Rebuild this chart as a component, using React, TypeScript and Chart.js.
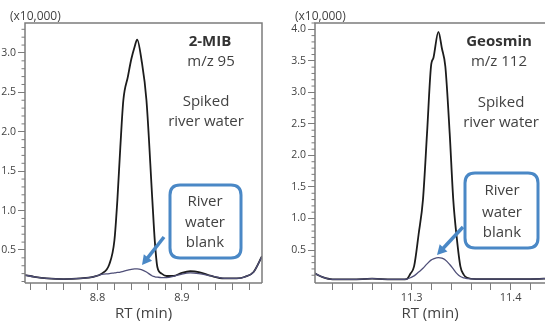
import React, { useEffect, useRef } from "react";
import { Chart, registerables } from "chart.js";

Chart.register(...registerables);
Chart.defaults.font.family = "'Open Sans', 'Noto Sans', sans-serif";

// ---------- 2-MIB (m/z 95) ----------
const MIB_RT = [8.714, 8.725, 8.74, 8.76, 8.78, 8.795, 8.805, 8.814, 8.82, 8.8235, 8.827, 8.8306, 8.836, 8.84, 8.844, 8.847, 8.852, 8.858, 8.865, 8.868, 8.871, 8.876, 8.882, 8.89, 8.9, 8.91, 8.92, 8.935, 8.95, 8.965, 8.975, 8.985, 8.995];
const MIB_SPIKED = [0.18, 0.16, 0.14, 0.13, 0.14, 0.16, 0.2, 0.32, 0.62, 1.13, 1.8, 2.4, 2.7, 2.92, 3.08, 3.17, 2.92, 2.4, 1.13, 0.6, 0.28, 0.2, 0.17, 0.17, 0.21, 0.23, 0.22, 0.17, 0.14, 0.14, 0.16, 0.22, 0.42];
const MIB_BLANK = [0.18, 0.16, 0.14, 0.13, 0.14, 0.16, 0.19, 0.2, 0.21, 0.215, 0.22, 0.23, 0.245, 0.255, 0.26, 0.26, 0.25, 0.22, 0.17, 0.16, 0.155, 0.15, 0.15, 0.165, 0.195, 0.21, 0.2, 0.17, 0.14, 0.14, 0.16, 0.22, 0.42];
const MIB_X_TICKS = [8.72, 8.74, 8.76, 8.78, 8.8, 8.82, 8.84, 8.86, 8.88, 8.9, 8.92, 8.94, 8.96, 8.98];
const MIB_X_LABELS = [8.8, 8.9];
const MIB_Y_LABELS = [0.5, 1.0, 1.5, 2.0, 2.5, 3.0];
const MIB_Y_MINOR = [0.1, 0.2, 0.3, 0.4, 0.6, 0.7, 0.8, 0.9, 1.1, 1.2, 1.3, 1.4, 1.6, 1.7, 1.8, 1.9, 2.1, 2.2, 2.3, 2.4, 2.6, 2.7, 2.8, 2.9, 3.1, 3.2, 3.3];

// ---------- Geosmin (m/z 112) ----------
const GEO_RT = [11.202, 11.21, 11.22, 11.24, 11.26, 11.28, 11.29, 11.295, 11.2985, 11.3024, 11.307, 11.3114, 11.3155, 11.3195, 11.322, 11.327, 11.3305, 11.334, 11.3384, 11.342, 11.3455, 11.3492, 11.3525, 11.356, 11.365, 11.38, 11.4, 11.42, 11.44];
const GEO_SPIKED = [0.13, 0.07, 0.035, 0.035, 0.045, 0.035, 0.035, 0.04, 0.12, 0.24, 0.75, 1.3, 2.35, 3.41, 3.55, 3.96, 3.7, 3.41, 2.35, 1.3, 0.7, 0.24, 0.11, 0.06, 0.04, 0.04, 0.04, 0.04, 0.05];
const GEO_BLANK = [0.13, 0.07, 0.035, 0.035, 0.045, 0.035, 0.035, 0.04, 0.06, 0.09, 0.15, 0.21, 0.28, 0.34, 0.36, 0.38, 0.37, 0.34, 0.27, 0.2, 0.13, 0.08, 0.06, 0.045, 0.04, 0.04, 0.04, 0.04, 0.05];
const GEO_X_TICKS = [11.22, 11.24, 11.26, 11.28, 11.3, 11.32, 11.34, 11.36, 11.38, 11.4, 11.42];
const GEO_X_LABELS = [11.3, 11.4];
const GEO_Y_LABELS = [0.5, 1.0, 1.5, 2.0, 2.5, 3.0, 3.5, 4.0];
const GEO_Y_MINOR = [0.1, 0.2, 0.3, 0.4, 0.6, 0.7, 0.8, 0.9, 1.1, 1.2, 1.3, 1.4, 1.6, 1.7, 1.8, 1.9, 2.1, 2.2, 2.3, 2.4, 2.6, 2.7, 2.8, 2.9, 3.1, 3.2, 3.3, 3.4, 3.6, 3.7, 3.8, 3.9, 4.1];

const X_TITLE = "RT (min)";
const Y_UNIT = "(x10,000)";
const SAMPLE_LINES = ["Spiked", "river water"];
const BLANK_LINES = ["River", "water", "blank"];

const SPIKED_COLOR = "#1c1c1c";
const BLANK_COLOR = "#4f4f78";
const AXIS_COLOR = "#7c7c7c";
const TEXT_COLOR = "#424242";
const BOX_COLOR = "#4a88c6";

type Panel = {
  rt: number[]; spiked: number[]; blank: number[];
  xMin: number; xMax: number; yMin: number; yMax: number;
  xTicks: number[]; xLabels: number[]; yLabels: number[]; yMinor: number[];
  name: string; mz: string;
  canvasLeft: number; canvasWidth: number; yAxisWidth: number; padRight: number; showRight: boolean;
  unitX: number;
  nameAt: [number, number]; mzAt: [number, number]; sampleAt: [number, number][];
  box: [number, number, number, number]; boxTextX: number; boxTextY: number[];
  arrow: [number, number, number, number];
};

const PANELS: Panel[] = [
  {
    rt: MIB_RT, spiked: MIB_SPIKED, blank: MIB_BLANK,
    xMin: 8.714, xMax: 8.995, yMin: 0.081, yMax: 3.38,
    xTicks: MIB_X_TICKS, xLabels: MIB_X_LABELS, yLabels: MIB_Y_LABELS, yMinor: MIB_Y_MINOR,
    name: "2-MIB", mz: "m/z 95",
    canvasLeft: 0, canvasWidth: 275, yAxisWidth: 25, padRight: 13, showRight: true,
    unitX: 15,
    nameAt: [210, 42], mzAt: [211, 62], sampleAt: [[206, 102], [206, 122]],
    box: [170, 185, 71, 73], boxTextX: 205, boxTextY: [202, 223, 243],
    arrow: [164, 237, 142, 265],
  },
  {
    rt: GEO_RT, spiked: GEO_SPIKED, blank: GEO_BLANK,
    xMin: 11.2023, xMax: 11.4347, yMin: -0.023, yMax: 4.1,
    xTicks: GEO_X_TICKS, xLabels: GEO_X_LABELS, yLabels: GEO_Y_LABELS, yMinor: GEO_Y_MINOR,
    name: "Geosmin", mz: "m/z 112",
    canvasLeft: 275, canvasWidth: 270, yAxisWidth: 40, padRight: 0, showRight: false,
    unitX: 20,
    nameAt: [224, 42], mzAt: [224, 62], sampleAt: [[226, 103], [226, 123]],
    box: [190, 173, 73, 75], boxTextX: 227, boxTextY: [191, 213, 233],
    arrow: [188, 227, 162, 255],
  },
];

function roundRect(ctx: CanvasRenderingContext2D, x: number, y: number, w: number, h: number, r: number) {
  ctx.beginPath();
  ctx.moveTo(x + r, y);
  ctx.lineTo(x + w - r, y);
  ctx.quadraticCurveTo(x + w, y, x + w, y + r);
  ctx.lineTo(x + w, y + h - r);
  ctx.quadraticCurveTo(x + w, y + h, x + w - r, y + h);
  ctx.lineTo(x + r, y + h);
  ctx.quadraticCurveTo(x, y + h, x, y + h - r);
  ctx.lineTo(x, y + r);
  ctx.quadraticCurveTo(x, y, x + r, y);
  ctx.closePath();
}

function makeDecor(p: Panel) {
  return {
    id: "decor",
    afterDraw(chart: any) {
      const { ctx, chartArea } = chart;
      const { left, right, top, bottom } = chartArea;
      const yScale = chart.scales.y;
      ctx.save();
      // frame
      ctx.strokeStyle = AXIS_COLOR;
      ctx.lineWidth = 1.5;
      ctx.beginPath();
      ctx.moveTo(left, bottom);
      ctx.lineTo(left, top);
      ctx.lineTo(p.showRight ? right : chart.width, top);
      if (p.showRight) ctx.lineTo(right, bottom);
      ctx.moveTo(p.showRight ? right : chart.width, bottom);
      ctx.lineTo(left, bottom);
      ctx.stroke();
      // minor y ticks
      ctx.lineWidth = 1;
      ctx.beginPath();
      for (const v of p.yMinor) {
        const y = yScale.getPixelForValue(v);
        if (y < top - 0.5 || y > bottom + 0.5) continue;
        ctx.moveTo(left - 3.5, y);
        ctx.lineTo(left, y);
      }
      ctx.stroke();
      // unit label
      ctx.fillStyle = TEXT_COLOR;
      ctx.font = "12px 'Open Sans', sans-serif";
      ctx.textAlign = "left";
      ctx.textBaseline = "middle";
      ctx.fillText(Y_UNIT, left - p.unitX, 17);
      // names
      ctx.textAlign = "center";
      ctx.fillStyle = "#333333";
      ctx.font = "bold 15px 'Open Sans', sans-serif";
      ctx.fillText(p.name, p.nameAt[0], p.nameAt[1]);
      ctx.fillStyle = TEXT_COLOR;
      ctx.font = "15px 'Open Sans', sans-serif";
      ctx.fillText(p.mz, p.mzAt[0], p.mzAt[1]);
      SAMPLE_LINES.forEach((t, i) => ctx.fillText(t, p.sampleAt[i][0], p.sampleAt[i][1]));
      // blank box
      const [bx, by, bw, bh] = p.box;
      ctx.fillStyle = "#ffffff";
      roundRect(ctx, bx, by, bw, bh, 10);
      ctx.fill();
      ctx.strokeStyle = BOX_COLOR;
      ctx.lineWidth = 3;
      ctx.stroke();
      ctx.fillStyle = TEXT_COLOR;
      ctx.font = "15px 'Open Sans', sans-serif";
      BLANK_LINES.forEach((t, i) => ctx.fillText(t, p.boxTextX, p.boxTextY[i]));
      // arrow
      const [x1, y1, x2, y2] = p.arrow;
      const ang = Math.atan2(y2 - y1, x2 - x1);
      const head = 11;
      const bxh = x2 - Math.cos(ang) * head * 0.8;
      const byh = y2 - Math.sin(ang) * head * 0.8;
      ctx.strokeStyle = BOX_COLOR;
      ctx.fillStyle = BOX_COLOR;
      ctx.lineWidth = 3.5;
      ctx.beginPath();
      ctx.moveTo(x1, y1);
      ctx.lineTo(bxh, byh);
      ctx.stroke();
      ctx.beginPath();
      ctx.moveTo(x2, y2);
      ctx.lineTo(x2 - Math.cos(ang - 0.5) * head, y2 - Math.sin(ang - 0.5) * head);
      ctx.lineTo(x2 - Math.cos(ang + 0.5) * head, y2 - Math.sin(ang + 0.5) * head);
      ctx.closePath();
      ctx.fill();
      ctx.restore();
    },
  };
}

function PanelChart({ p }: { p: Panel }) {
  const ref = useRef<HTMLCanvasElement>(null);
  useEffect(() => {
    const near = (arr: number[], v: number) => arr.some((a) => Math.abs(a - v) < 1e-6);
    const chart = new Chart(ref.current as HTMLCanvasElement, {
      type: "line",
      data: {
        datasets: [
          {
            data: p.rt.map((x, i) => ({ x, y: p.blank[i] })),
            borderColor: BLANK_COLOR,
            borderWidth: 1.3,
            pointRadius: 0,
            cubicInterpolationMode: "monotone",
          },
          {
            data: p.rt.map((x, i) => ({ x, y: p.spiked[i] })),
            borderColor: SPIKED_COLOR,
            borderWidth: 1.8,
            pointRadius: 0,
            cubicInterpolationMode: "monotone",
          },
        ],
      },
      options: {
        animation: false,
        responsive: false,
        maintainAspectRatio: false,
        events: [],
        layout: { padding: { left: 0, right: p.padRight, top: 23, bottom: 0 } },
        plugins: { legend: { display: false }, tooltip: { enabled: false } },
        scales: {
          x: {
            type: "linear",
            min: p.xMin,
            max: p.xMax,
            afterFit: (s: any) => { s.height = 46; },
            afterBuildTicks: (s: any) => { s.ticks = p.xTicks.map((v) => ({ value: v })); },
            ticks: {
              autoSkip: false,
              maxRotation: 0,
              padding: 1,
              color: TEXT_COLOR,
              font: { size: 11 },
              callback: (v: any) => (near(p.xLabels, Number(v)) ? Number(v).toFixed(1) : ""),
            },
            grid: { drawOnChartArea: false, tickLength: 7, tickColor: AXIS_COLOR, tickWidth: 1 },
            border: { display: false },
            title: {
              display: true,
              text: X_TITLE,
              color: TEXT_COLOR,
              font: { size: 15 },
              padding: { top: 0, bottom: 6 },
            },
          },
          y: {
            type: "linear",
            min: p.yMin,
            max: p.yMax,
            afterFit: (s: any) => { s.width = p.yAxisWidth; },
            afterBuildTicks: (s: any) => { s.ticks = p.yLabels.map((v) => ({ value: v })); },
            ticks: {
              autoSkip: false,
              padding: 2,
              color: TEXT_COLOR,
              font: { size: 10.5 },
              callback: (v: any) => Number(v).toFixed(1),
            },
            grid: { drawOnChartArea: false, tickLength: 7, tickColor: AXIS_COLOR, tickWidth: 1 },
            border: { display: false },
          },
        },
      } as any,
      plugins: [makeDecor(p)],
    });
    return () => chart.destroy();
  }, [p]);
  return (
    <canvas
      ref={ref}
      width={p.canvasWidth}
      height={329}
      style={{ position: "absolute", left: p.canvasLeft, top: 0, width: p.canvasWidth, height: 329 }}
    />
  );
}

export default function App() {
  return (
    <div
      style={{
        position: "fixed",
        left: 0,
        top: 0,
        width: 545,
        height: 329,
        overflow: "hidden",
        background: "#ffffff",
      }}
    >
      {PANELS.map((p) => (
        <PanelChart key={p.name} p={p} />
      ))}
    </div>
  );
}
